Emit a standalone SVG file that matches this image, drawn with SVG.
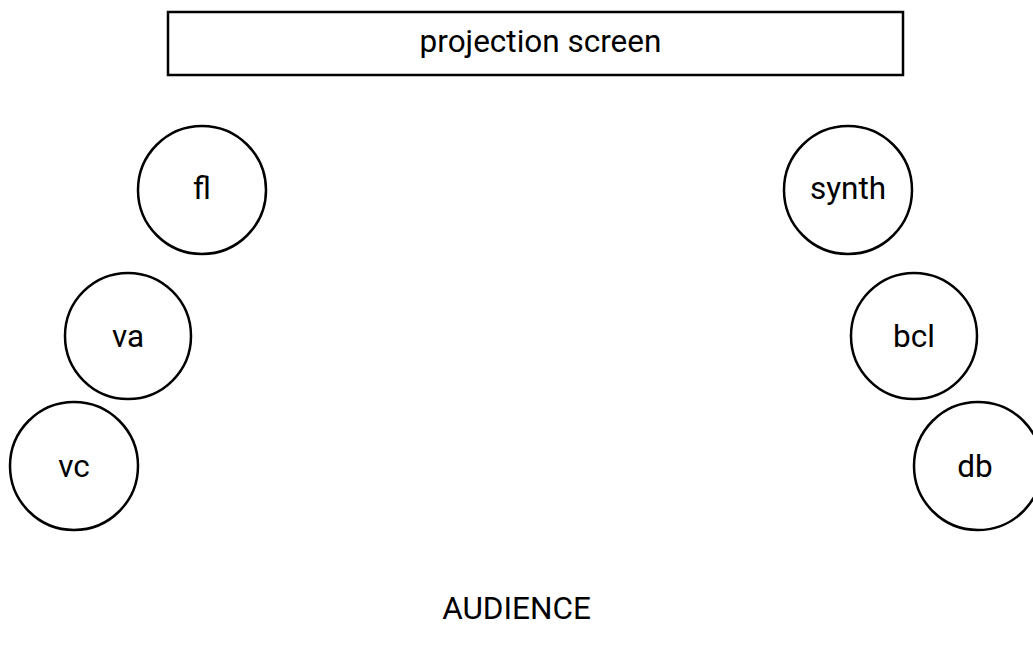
<svg xmlns="http://www.w3.org/2000/svg" width="1033" height="648" viewBox="0 0 1033 648">
<style>
.n{fill:#fff;stroke:#000;stroke-width:2.5}
.t{font-family:Roboto,"Liberation Sans",sans-serif;font-size:31.5px;fill:#000;text-anchor:middle;dominant-baseline:central}
</style>
<rect width="1033" height="648" fill="#fff"/>
<g id="connectors"></g>
<g id="screen"><rect class="n" x="168" y="12" width="735" height="63"/><text class="t" x="540.5" y="41">projection screen</text></g>
<g id="fl"><circle class="n" cx="202" cy="190" r="64"/><text class="t" x="202" y="188">fl</text></g>
<g id="va"><circle class="n" cx="128" cy="336" r="63"/><text class="t" x="128" y="336">va</text></g>
<g id="vc"><circle class="n" cx="74" cy="466" r="64"/><text class="t" x="74" y="466">vc</text></g>
<g id="synth"><circle class="n" cx="848" cy="190" r="64"/><text class="t" x="848" y="188">synth</text></g>
<g id="bcl"><circle class="n" cx="914" cy="336" r="63"/><text class="t" x="914" y="336">bcl</text></g>
<g id="db"><circle class="n" cx="978" cy="466" r="64"/><text class="t" x="975" y="466">db</text></g>
<g id="audience"><text class="t" x="516.5" y="608">AUDIENCE</text></g>
</svg>
